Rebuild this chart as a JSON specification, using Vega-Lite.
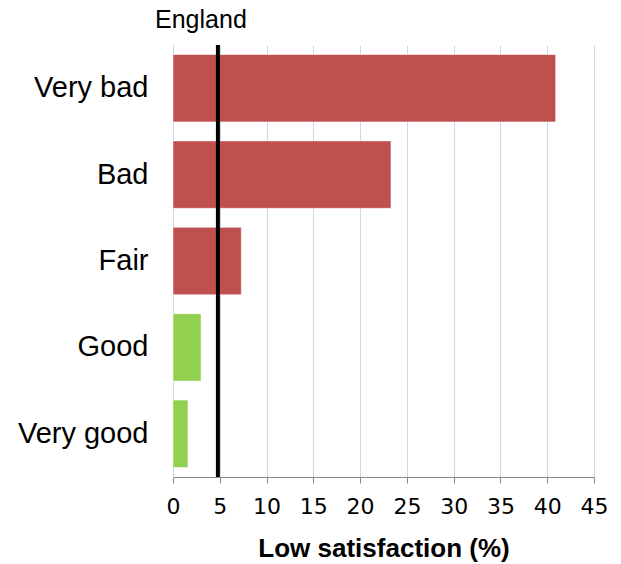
{
  "$schema": "https://vega.github.io/schema/vega-lite/v6.json",
  "width": 421,
  "height": 432,
  "autosize": "none",
  "padding": {"left": 173, "top": 45, "right": 27, "bottom": 87},
  "config": {
    "view": {"stroke": null},
    "font": "Liberation Sans"
  },
  "datasets": {
    "bars": [
      {"health": "Very bad", "value": 40.9, "group": "bad"},
      {"health": "Bad", "value": 23.3, "group": "bad"},
      {"health": "Fair", "value": 7.3, "group": "bad"},
      {"health": "Good", "value": 3.0, "group": "good"},
      {"health": "Very good", "value": 1.6, "group": "good"}
    ],
    "england": [{"label": "England", "value": 4.8}]
  },
  "layer": [
    {
      "data": {"name": "bars"},
      "mark": {"type": "bar", "stroke": "white", "strokeWidth": 0.5},
      "encoding": {
        "y": {
          "field": "health",
          "type": "nominal",
          "sort": null,
          "scale": {"paddingInner": 0.22, "paddingOuter": 0.11},
          "axis": {
            "title": null,
            "labelFont": "Liberation Sans",
            "labelFontSize": 29,
            "labelColor": "black",
            "labelPadding": 25,
            "ticks": false,
            "domain": true,
            "domainColor": "#c6d9f1",
            "grid": false
          }
        },
        "x": {
          "field": "value",
          "type": "quantitative",
          "scale": {"domain": [0, 45], "nice": false},
          "axis": {
            "title": "Low satisfaction (%)",
            "titleFont": "Liberation Sans",
            "titleFontSize": 26,
            "titleFontWeight": "bold",
            "titleColor": "black",
            "titlePadding": 18,
            "values": [0, 5, 10, 15, 20, 25, 30, 35, 40, 45],
            "labelFont": "DejaVu Sans",
            "labelFontSize": 22,
            "labelColor": "black",
            "labelPadding": 13,
            "labelOverlap": false,
            "labelFlush": false,
            "tickColor": "#888888",
            "tickSize": 6,
            "domainColor": "#888888",
            "grid": true,
            "gridColor": "#c6d9f1",
            "gridWidth": 1
          }
        },
        "color": {
          "field": "group",
          "type": "nominal",
          "scale": {"domain": ["bad", "good"], "range": ["#c0504d", "#92d050"]},
          "legend": null
        }
      }
    },
    {
      "data": {"name": "england"},
      "mark": {"type": "rule", "color": "black", "strokeWidth": 4},
      "encoding": {
        "x": {"field": "value", "type": "quantitative"}
      }
    },
    {
      "data": {"name": "england"},
      "mark": {"type": "text", "fontSize": 25, "font": "Liberation Sans", "color": "black", "baseline": "middle", "align": "center", "dy": -25, "dx": -17},
      "encoding": {
        "x": {"field": "value", "type": "quantitative"},
        "y": {"value": 0},
        "text": {"field": "label"}
      }
    }
  ]
}
